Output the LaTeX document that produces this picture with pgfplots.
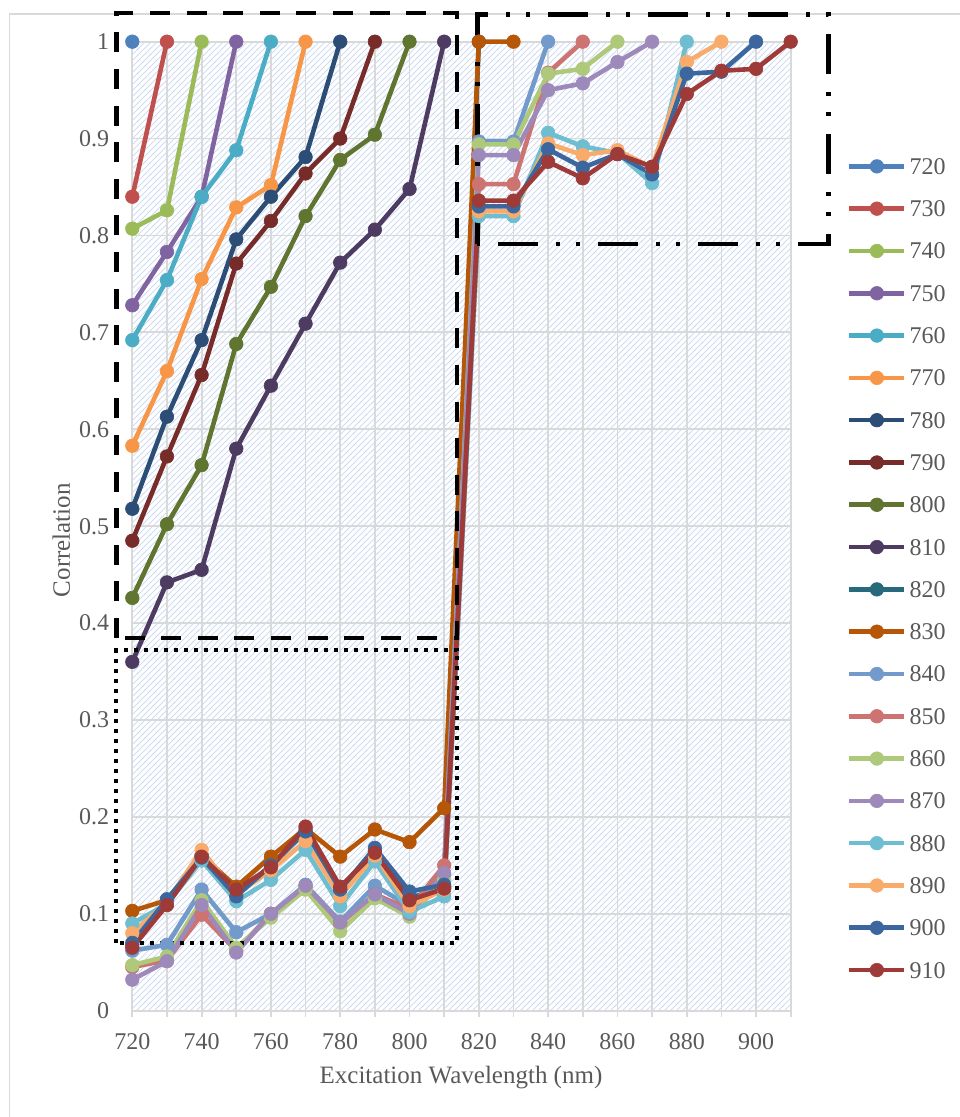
\documentclass[border=0pt]{standalone}
\usepackage{fontspec}
\setmainfont{Liberation Serif}
\usepackage{pgfplots}
\pgfplotsset{compat=1.18}
\usetikzlibrary{patterns}

\definecolor{gridgray}{HTML}{D9D9D9}
\definecolor{labelgray}{HTML}{595959}
\definecolor{hatch}{HTML}{D0DCEF}
\definecolor{c720}{HTML}{4F81BD}
\definecolor{c730}{HTML}{C0504D}
\definecolor{c740}{HTML}{9BBB59}
\definecolor{c750}{HTML}{8064A2}
\definecolor{c760}{HTML}{4BACC6}
\definecolor{c770}{HTML}{F79646}
\definecolor{c780}{HTML}{2C4D75}
\definecolor{c790}{HTML}{772C2A}
\definecolor{c800}{HTML}{5F7530}
\definecolor{c810}{HTML}{4D3B62}
\definecolor{c820}{HTML}{276A7C}
\definecolor{c830}{HTML}{B65708}
\definecolor{c840}{HTML}{729ACA}
\definecolor{c850}{HTML}{CD7371}
\definecolor{c860}{HTML}{AFC97A}
\definecolor{c870}{HTML}{9E8ABA}
\definecolor{c880}{HTML}{6FBDD1}
\definecolor{c890}{HTML}{F9AB6B}
\definecolor{c900}{HTML}{3B679E}
\definecolor{c910}{HTML}{9E3B39}

\begin{document}
\begin{tikzpicture}
\begin{axis}[
  scale only axis,
  width=329.2pt, height=484.5pt,
  xmin=720, xmax=910, ymin=0, ymax=1,
  clip=false,
  xtick={720,730,740,750,760,770,780,790,800,810,820,830,840,850,860,870,880,890,900,910},
  xticklabels={720,,740,,760,,780,,800,,820,,840,,860,,880,,900,},
  ytick={0,0.1,0.2,0.3,0.4,0.5,0.6,0.7,0.8,0.9,1},
  yticklabels={0,0.1,0.2,0.3,0.4,0.5,0.6,0.7,0.8,0.9,1},
  grid=major,
  major grid style={draw=gridgray, line width=0.9pt},
  axis line style={draw=gridgray, line width=0.9pt},
  xtick pos=bottom, ytick pos=left,
  tick align=outside,
  major tick length=3pt,
  xtick style={draw=gridgray, line width=0.9pt},
  ytick style={draw=none},
  tick label style={font=\fontsize{12}{14}\selectfont, text=labelgray},
  xticklabel style={yshift=-5pt},
  yticklabel style={xshift=-5pt},
  label style={font=\fontsize{12.5}{15}\selectfont, text=labelgray},
  xlabel={Excitation Wavelength (nm)},
  ylabel={Correlation},
  xlabel style={at={(axis description cs:0.4992,-0.069)}, anchor=center},
  ylabel style={at={(axis description cs:-0.1077,0.4856)}, anchor=center},
  axis background/.style={pattern=north east lines, pattern color=hatch},
  every axis plot/.append style={line width=2.3pt, line join=round, mark=*, mark size=3.4pt, mark options={solid, line width=0.3pt}},
  legend cell align=left,
  legend image code/.code={\draw[mark repeat=2, mark phase=2] plot coordinates {(0pt,0pt) (13.75pt,0pt) (27.5pt,0pt)};},
  legend style={at={(axis description cs:1.085,0.880)}, anchor=north west, draw=none, fill=none, inner sep=0pt,
    font=\fontsize{12}{14}\selectfont, text=labelgray, row sep=13.15pt,
    nodes={inner xsep=1.5pt, inner ysep=0pt, text height=8pt, text depth=0pt}},
]
% chart area border (drawn first, under everything)
\draw[gridgray, line width=0.8pt] (axis cs:684.54,-0.2) -- (axis cs:684.54,1.02887) -- (axis cs:970,1.02887);

\addplot[color=c720] coordinates {(720,1)};
\addlegendentry{720}
\addplot[color=c730] coordinates {(720,0.840)(730,1)};
\addlegendentry{730}
\addplot[color=c740] coordinates {(720,0.807)(730,0.826)(740,1)};
\addlegendentry{740}
\addplot[color=c750] coordinates {(720,0.728)(730,0.783)(740,0.840)(750,1)};
\addlegendentry{750}
\addplot[color=c760] coordinates {(720,0.692)(730,0.754)(740,0.840)(750,0.888)(760,1)};
\addlegendentry{760}
\addplot[color=c770] coordinates {(720,0.583)(730,0.660)(740,0.755)(750,0.829)(760,0.852)(770,1)};
\addlegendentry{770}
\addplot[color=c780] coordinates {(720,0.518)(730,0.613)(740,0.692)(750,0.796)(760,0.840)(770,0.881)(780,1)};
\addlegendentry{780}
\addplot[color=c790] coordinates {(720,0.485)(730,0.572)(740,0.656)(750,0.771)(760,0.815)(770,0.864)(780,0.900)(790,1)};
\addlegendentry{790}
\addplot[color=c800] coordinates {(720,0.426)(730,0.502)(740,0.563)(750,0.688)(760,0.747)(770,0.820)(780,0.878)(790,0.904)(800,1)};
\addlegendentry{800}
\addplot[color=c810] coordinates {(720,0.360)(730,0.442)(740,0.455)(750,0.580)(760,0.645)(770,0.709)(780,0.772)(790,0.806)(800,0.848)(810,1)};
\addlegendentry{810}
\addplot[color=c820] coordinates {(720,0.068)(730,0.112)(740,0.160)(750,0.120)(760,0.150)(770,0.185)(780,0.125)(790,0.165)(800,0.116)(810,0.128)(820,1)};
\addlegendentry{820}
\addplot[color=c830] coordinates {(720,0.103)(730,0.114)(740,0.160)(750,0.128)(760,0.159)(770,0.188)(780,0.159)(790,0.187)(800,0.174)(810,0.209)(820,1)(830,1)};
\addlegendentry{830}
\addplot[color=c840] coordinates {(720,0.062)(730,0.068)(740,0.125)(750,0.081)(760,0.100)(770,0.130)(780,0.092)(790,0.129)(800,0.108)(810,0.140)(820,0.897)(830,0.897)(840,1)};
\addlegendentry{840}
\addplot[color=c850] coordinates {(720,0.045)(730,0.052)(740,0.099)(750,0.062)(760,0.100)(770,0.128)(780,0.090)(790,0.120)(800,0.105)(810,0.150)(820,0.853)(830,0.853)(840,0.968)(850,1)};
\addlegendentry{850}
\addplot[color=c860] coordinates {(720,0.047)(730,0.056)(740,0.114)(750,0.065)(760,0.096)(770,0.125)(780,0.082)(790,0.116)(800,0.097)(810,0.135)(820,0.894)(830,0.894)(840,0.967)(850,0.972)(860,1)};
\addlegendentry{860}
\addplot[color=c870] coordinates {(720,0.032)(730,0.051)(740,0.109)(750,0.060)(760,0.100)(770,0.129)(780,0.091)(790,0.120)(800,0.100)(810,0.142)(820,0.883)(830,0.883)(840,0.950)(850,0.957)(860,0.979)(870,1)};
\addlegendentry{870}
\addplot[color=c880] coordinates {(720,0.090)(730,0.110)(740,0.155)(750,0.113)(760,0.135)(770,0.166)(780,0.108)(790,0.154)(800,0.102)(810,0.118)(820,0.820)(830,0.820)(840,0.906)(850,0.892)(860,0.885)(870,0.854)(880,1)};
\addlegendentry{880}
\addplot[color=c890] coordinates {(720,0.080)(730,0.112)(740,0.166)(750,0.120)(760,0.145)(770,0.175)(780,0.118)(790,0.160)(800,0.108)(810,0.125)(820,0.825)(830,0.825)(840,0.895)(850,0.883)(860,0.888)(870,0.870)(880,0.979)(890,1)};
\addlegendentry{890}
\addplot[color=c900] coordinates {(720,0.070)(730,0.115)(740,0.158)(750,0.118)(760,0.150)(770,0.185)(780,0.125)(790,0.168)(800,0.123)(810,0.130)(820,0.830)(830,0.830)(840,0.889)(850,0.870)(860,0.884)(870,0.863)(880,0.967)(890,0.969)(900,1)};
\addlegendentry{900}
\addplot[color=c910] coordinates {(720,0.065)(730,0.109)(740,0.159)(750,0.125)(760,0.148)(770,0.190)(780,0.128)(790,0.163)(800,0.114)(810,0.126)(820,0.836)(830,0.836)(840,0.876)(850,0.859)(860,0.884)(870,0.871)(880,0.946)(890,0.970)(900,0.972)(910,1)};
\addlegendentry{910}

% annotation boxes
\draw[black, line width=2.25pt, dash pattern=on 10pt off 8.3pt] (axis cs:715.39,0.38454) rectangle (axis cs:813.70,1.02959);
\draw[black, line width=2pt, dash pattern=on 2pt off 3pt] (axis cs:715.39,0.07010) rectangle (axis cs:813.79,0.37216);
\draw[black, line width=2.25pt, dash pattern=on 20pt off 9pt on 2pt off 8pt on 2pt off 9pt] (axis cs:819.56,0.79144) rectangle (axis cs:920.96,1.02784);

\coordinate (bbsw) at (axis cs:681.82,-0.10970);
\coordinate (bbne) at (axis cs:958.85,1.04303);
\end{axis}
\pgfresetboundingbox
\path[use as bounding box] (bbsw) rectangle (bbne);
\end{tikzpicture}
\end{document}
